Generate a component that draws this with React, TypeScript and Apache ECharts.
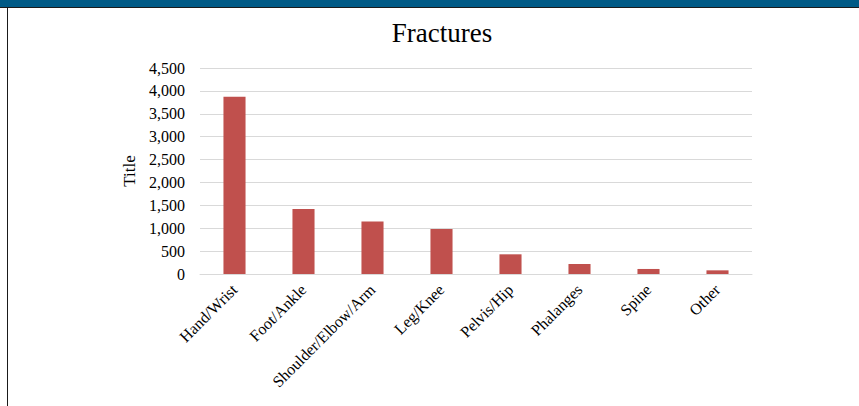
import React, { useEffect, useRef } from "react";
import * as echarts from "echarts";

const categories = ["Hand/Wrist", "Foot/Ankle", "Shoulder/Elbow/Arm", "Leg/Knee", "Pelvis/Hip", "Phalanges", "Spine", "Other"];
const fractures = [3870, 1420, 1145, 985, 430, 218, 110, 80];
const yTicks = { min: 0, max: 4500, interval: 500 };

export default function App() {
  const ref = useRef<HTMLDivElement>(null);
  useEffect(() => {
    const chart = echarts.init(ref.current!, null, { renderer: "svg" });
    const font = "'Liberation Serif', 'Times New Roman', serif";
    chart.setOption({
      animation: false,
      backgroundColor: "#ffffff",
      title: {
        text: "Fractures",
        left: 437,
        textAlign: "center",
        top: 14,
        textStyle: { fontFamily: font, fontSize: 27, fontWeight: "normal", color: "#000" },
      },
      graphic: [
        { type: "rect", shape: { x: 0, y: 0, width: 859, height: 7 }, style: { fill: "#005a86" } },
        { type: "rect", shape: { x: 0, y: 7, width: 859, height: 1 }, style: { fill: "#1a1a1a" } },
        { type: "rect", shape: { x: 7, y: 7, width: 1, height: 399 }, style: { fill: "#1a1a1a" } },
      ],
      grid: { left: 200, right: 107, top: 68, bottom: 132 },
      xAxis: {
        type: "category",
        data: categories,
        axisLine: { show: true, lineStyle: { color: "#d9d9d9", width: 1 } },
        axisTick: { show: false },
        axisLabel: {
          rotate: 45,
          interval: 0,
          margin: 13,
          fontFamily: font,
          fontSize: 16,
          color: "#000",
        },
      },
      yAxis: {
        type: "value",
        min: yTicks.min,
        max: yTicks.max,
        interval: yTicks.interval,
        name: "Title",
        nameLocation: "middle",
        nameGap: 62,
        nameRotate: 90,
        nameTextStyle: { fontFamily: font, fontSize: 17, color: "#000" },
        axisLine: { show: false },
        axisTick: { show: false },
        splitLine: { lineStyle: { color: "#d9d9d9", width: 1 } },
        axisLabel: {
          margin: 15,
          fontFamily: font,
          fontSize: 16,
          color: "#000",
          formatter: (v: number) => v.toLocaleString("en-US"),
        },
      },
      series: [
        {
          type: "bar",
          data: fractures,
          barWidth: "32%",
          itemStyle: { color: "#c0504d" },
        },
      ],
    });
    return () => chart.dispose();
  }, []);
  return (
    <div
      ref={ref}
      style={{ position: "fixed", left: 0, top: 0, width: 859, height: 406 }}
    />
  );
}
